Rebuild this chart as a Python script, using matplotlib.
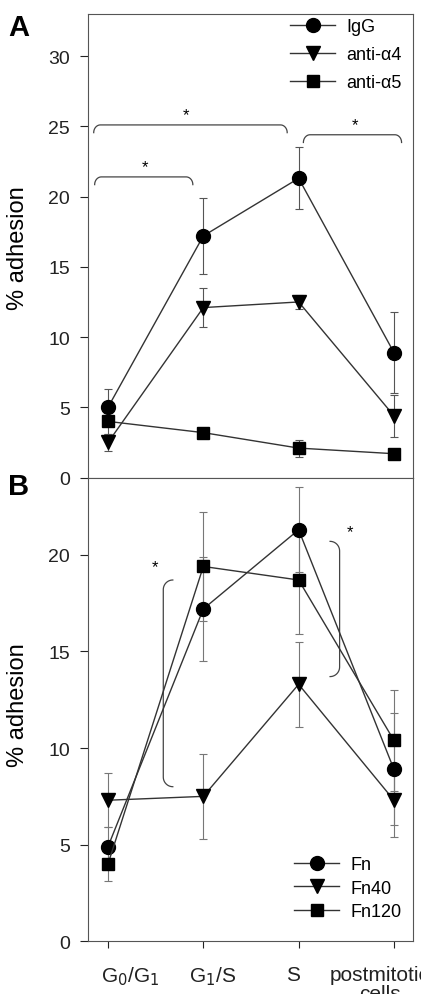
import numpy as np
import matplotlib
matplotlib.use('Agg')
import matplotlib.pyplot as plt
from matplotlib.lines import Line2D
from matplotlib.transforms import ScaledTranslation

plt.rcParams['font.family'] = ['Liberation Sans', 'DejaVu Sans']

# 数据
stages = ['G$_0$/G$_1$', 'G$_1$/S', 'S', 'postmitotic\ncells']

igg = [5.0, 17.2, 21.3, 8.9]
igg_err = [1.3, 2.7, 2.2, 2.9]
anti_a4 = [2.5, 12.1, 12.5, 4.4]
anti_a4_err = [0.6, 1.4, 0.5, 1.5]
anti_a5 = [4.0, 3.2, 2.1, 1.7]
anti_a5_err = [0.9, 0.3, 0.6, 0.2]

fn = [4.9, 17.2, 21.3, 8.9]
fn_err = [1.0, 2.7, 2.2, 2.9]
fn40 = [7.3, 7.5, 13.3, 7.3]
fn40_err = [1.4, 2.2, 2.2, 1.9]
fn120 = [4.0, 19.4, 18.7, 10.4]
fn120_err = [0.9, 2.8, 2.8, 2.6]

x = np.arange(len(stages))
BR_COLOR = '#444444'


def hbracket(ax, x0, x1, y, rx, ry):
    # 水平括号，两端向下弯
    t = np.linspace(0, np.pi / 2, 15)
    xs = np.concatenate([x0 + rx - rx * np.cos(t), x1 - rx + rx * np.sin(t)])
    ys = np.concatenate([y - ry + ry * np.sin(t), y - ry + ry * np.cos(t)])
    ax.plot(xs, ys, color=BR_COLOR, lw=0.9, clip_on=False)


def vbracket(ax, xb, y0, y1, rx, ry):
    # 竖直括号，两端弯向 rx 方向
    t = np.linspace(0, np.pi / 2, 15)
    xs = np.concatenate([xb + rx - rx * np.sin(t), xb + rx - rx * np.cos(t)])
    ys = np.concatenate([y1 - ry + ry * np.cos(t), y0 + ry - ry * np.sin(t)])
    ax.plot(xs, ys, color=BR_COLOR, lw=0.9, clip_on=False)


fig = plt.figure(figsize=(4.21, 9.95), dpi=100)
axA = fig.add_axes([0.209, 0.519, 0.772, 0.466])
axB = fig.add_axes([0.209, 0.053, 0.772, 0.466])

line_kw = dict(color='#333333', lw=1.0, mfc='black', mec='black', ecolor='#555555',
               elinewidth=0.8, capsize=3, capthick=0.8)
markers = [('o', 10), ('v', 10), ('s', 8.5)]

seriesA = [(igg, igg_err, 'IgG'), (anti_a4, anti_a4_err, 'anti-\u03b14'),
           (anti_a5, anti_a5_err, 'anti-\u03b15')]
seriesB = [(fn, fn_err, 'Fn'), (fn40, fn40_err, 'Fn40'), (fn120, fn120_err, 'Fn120')]

for (vals, err, lab), (m, ms) in zip(seriesA, markers):
    axA.errorbar(x, vals, yerr=err, marker=m, ms=ms, label=lab, **line_kw)

line_kw['ecolor'] = '#777777'
for (vals, err, lab), (m, ms) in zip(seriesB, markers):
    axB.errorbar(x, vals, yerr=err, marker=m, ms=ms, label=lab, **line_kw)

for ax in (axA, axB):
    ax.set_xlim(-0.21, 3.2)
    ax.set_xticks(x)
    ax.tick_params(axis='y', direction='out', length=6, width=0.8, pad=7,
                   labelsize=14, colors='#222222')
    ax.tick_params(axis='x', direction='out', length=5, width=0.8, pad=12,
                   labelsize=15, colors='#222222')
    for s in ax.spines.values():
        s.set_color('#555555')
        s.set_linewidth(0.8)

axA.set_ylim(0, 33)
axA.set_yticks(np.arange(0, 31, 5))
axA.set_xticklabels([])
axA.tick_params(axis='x', length=0)

axB.set_ylim(0, 24)
axB.set_yticks(np.arange(0, 21, 5))
axB.set_xticklabels(stages)
# 刻度标签的水平偏移（像素）
offsets = [22, 9, -6, -14]
for lbl, dx in zip(axB.get_xticklabels(), offsets):
    lbl.set_transform(lbl.get_transform() + ScaledTranslation(dx / 100, 0, fig.dpi_scale_trans))
    lbl.set_linespacing(1.0)


def handles(labels):
    return [Line2D([], [], color='#333333', lw=1.0, marker=m, ms=ms, mfc='black',
                   mec='black', label=l) for (m, ms), l in zip(markers, labels)]


axA.legend(handles=handles([s[2] for s in seriesA]), loc='upper left',
           bbox_to_anchor=(283 / 421, 1 - 12 / 995), bbox_transform=fig.transFigure,
           frameon=False, fontsize=13, handlelength=2.5, handletextpad=0.6,
           labelspacing=0.6, borderaxespad=0)
axB.legend(handles=handles([s[2] for s in seriesB]), loc='upper left',
           bbox_to_anchor=(287 / 421, 1 - 850 / 995), bbox_transform=fig.transFigure,
           frameon=False, fontsize=13, handlelength=2.5, handletextpad=0.6,
           labelspacing=0.35, borderaxespad=0)

# 显著性括号
hbracket(axA, -0.15, 1.88, 25.1, 0.07, 0.55)
hbracket(axA, -0.14, 0.89, 21.4, 0.07, 0.55)
hbracket(axA, 2.05, 3.08, 24.4, 0.07, 0.55)
axA.text(0.82, 25.3, '*', ha='center', va='bottom', fontsize=12)
axA.text(0.39, 21.6, '*', ha='center', va='bottom', fontsize=12)
axA.text(2.59, 24.6, '*', ha='center', va='bottom', fontsize=12)

vbracket(axB, 0.58, 8.0, 18.7, 0.1, 0.5)
vbracket(axB, 2.43, 13.7, 20.7, -0.1, 0.5)
axB.text(0.49, 19.0, '*', ha='center', va='bottom', fontsize=12)
axB.text(2.54, 20.8, '*', ha='center', va='bottom', fontsize=12)

fig.text(18 / 421, 1 - 248 / 995, '% adhesion', rotation=90, ha='center', va='center', fontsize=17)
fig.text(18 / 421, 1 - 705 / 995, '% adhesion', rotation=90, ha='center', va='center', fontsize=17)
fig.text(8 / 421, 1 - 28 / 995, 'A', ha='left', va='center', fontsize=21, fontweight='bold')
fig.text(8 / 421, 1 - 487 / 995, 'B', ha='left', va='center', fontsize=21, fontweight='bold')

fig.savefig('out.png', dpi=100)
